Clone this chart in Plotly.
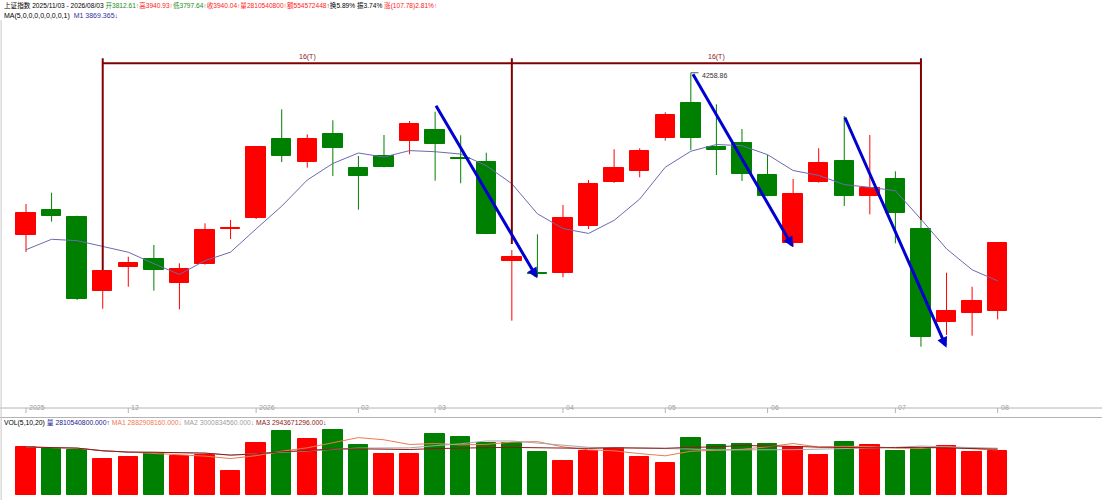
import numpy as np
import pandas as pd
import plotly.graph_objects as go

# weekly bars, 上证指数
weeks = ['2025-11-03', '2025-11-10', '2025-11-17', '2025-11-24', '2025-12-01', '2025-12-08',
         '2025-12-15', '2025-12-22', '2025-12-29', '2026-01-05', '2026-01-12', '2026-01-19',
         '2026-01-26', '2026-02-02', '2026-02-09', '2026-02-23', '2026-03-02', '2026-03-09',
         '2026-03-16', '2026-03-23', '2026-03-30', '2026-04-06', '2026-04-13', '2026-04-20',
         '2026-04-27', '2026-05-04', '2026-05-11', '2026-05-18', '2026-05-25', '2026-06-01',
         '2026-06-08', '2026-06-15', '2026-06-22', '2026-06-29', '2026-07-06', '2026-07-13',
         '2026-07-20', '2026-07-27', '2026-08-03']

open_ = [3955.5, 4002.3, 3989.2, 3850.2, 3895.1, 3910.1, 3865.8, 3901.3, 3966.2, 3987.3,
         4135.0, 4091.5, 4145.0, 4080.3, 4103.3, 4130.7, 4151.9, 4099.0, 4092.6, 3906.3,
         3884.5, 3885.0, 3972.4, 4054.1, 4075.8, 4136.4, 4201.8, 4120.6, 4127.0, 4067.7,
         3940.0, 4055.2, 4093.9, 4028.5, 4059.7, 3966.2, 3792.8, 3809.7, 3812.61]
high = [4013.5, 4034.6, 3991.6, 3890.0, 3914.9, 3936.8, 3902.6, 3977.4, 3983.6, 4121.0,
        4190.6, 4143.8, 4170.0, 4103.3, 4142.5, 4168.7, 4186.1, 4142.0, 4109.4, 3927.5,
        3956.8, 4011.6, 4058.4, 4115.8, 4117.7, 4185.0, 4258.86, 4199.9, 4153.7, 4105.1,
        4060.2, 4117.7, 4178.1, 4142.5, 4074.6, 3983.6, 3885.0, 3858.8, 3940.93]
low = [3923.7, 3980.4, 3834.0, 3817.7, 3858.8, 3851.4, 3816.6, 3900.0, 3948.0, 3985.4,
       4092.0, 4081.4, 4065.9, 4002.8, 4082.0, 4106.4, 4057.1, 4052.2, 3957.0, 3795.3,
       3877.5, 3876.4, 3966.7, 4053.0, 4063.4, 4131.9, 4114.5, 4067.7, 4056.5, 4028.0,
       3933.6, 4053.3, 4009.8, 3994.2, 3940.0, 3746.6, 3768.5, 3767.2, 3797.64]
close = [3997.2, 3991.6, 3835.8, 3888.8, 3903.2, 3890.1, 3891.0, 3964.3, 3968.6, 4120.6,
         4102.7, 4135.6, 4118.8, 4066.4, 4082.7, 4163.1, 4125.1, 4097.1, 3958.0, 3913.8,
         3882.0, 3986.8, 4051.5, 4080.3, 4112.6, 4179.9, 4136.4, 4114.5, 4069.0, 4029.0,
         4031.6, 4090.7, 4028.5, 4043.4, 3997.2, 3765.3, 3814.0, 3832.1, 3940.04]

# volume in 亿 (1e8)
vol_yi = [30.66, 30.21, 28.94, 23.19, 24.08, 26.64, 24.91, 25.36, 15.33, 33.41,
          40.88, 35.77, 41.52, 31.75, 26.38, 26.00, 38.77, 37.24, 33.41, 33.41,
          27.66, 21.91, 27.91, 30.21, 24.46, 20.63, 36.60, 31.75, 32.58, 32.58,
          30.85, 25.36, 34.05, 31.75, 27.91, 29.57, 31.11, 27.47, 28.105408]

# MA5 values of the first four weeks (need earlier history)
ma5_head = [3928.0, 3947.5, 3944.9, 3933.6]

# cycle markers: bar index of each 16-week turn
cycle_idx = [3, 19, 35]
cycle_label = '16(T)'

# trend arrows: (start idx, start price, end idx, end price)
trend_arrows = [(16, 4200.0, 20, 3874.5),
                (26.05, 4258.86, 30, 3932.5),
                (32, 4178.0, 36, 3744.8)]

RED = '#FF0000'
GREEN = '#008000'
FONT = 'Liberation Sans, Noto Sans CJK SC, DejaVu Sans'

df = pd.DataFrame({'week': pd.to_datetime(weeks), 'open': open_, 'high': high,
                   'low': low, 'close': close, 'vol': np.array(vol_yi) * 1e8})
df['i'] = np.arange(len(df))
ma5 = df['close'].rolling(5).mean()
ma5.iloc[:4] = ma5_head
df['ma5'] = ma5
up = df['close'] >= df['open']
prev_close = df['close'].shift(1).fillna(df['open'])
vol_up = df['close'] >= prev_close

fig = go.Figure()

# wicks
for mask, col in [(up, RED), (~up, GREEN)]:
    wx, wy = [], []
    for _, r in df[mask].iterrows():
        wx += [r['i'], r['i'], None]
        wy += [r['low'], r['high'], None]
    fig.add_trace(go.Scatter(x=wx, y=wy, mode='lines', line=dict(color=col, width=1),
                             hoverinfo='skip', showlegend=False))

# bodies
d = df[up]
fig.add_trace(go.Bar(x=d['i'], base=d['open'], y=d['close'] - d['open'], width=0.76,
                     marker=dict(color=RED, line=dict(color=RED, width=1)), showlegend=False))
d = df[~up]
fig.add_trace(go.Bar(x=d['i'], base=d['close'], y=d['open'] - d['close'], width=0.76,
                     marker=dict(color=GREEN, line=dict(color=GREEN, width=1)), showlegend=False))

fig.add_trace(go.Scatter(x=df['i'], y=df['ma5'], mode='lines',
                         line=dict(color='#6A6AB0', width=1), showlegend=False))

# volume
fig.add_trace(go.Bar(x=df['i'], y=df['vol'], width=0.76, xaxis='x2', yaxis='y2',
                     marker=dict(color=np.where(vol_up, RED, GREEN),
                                 line=dict(color=np.where(vol_up, RED, GREEN), width=1)),
                     showlegend=False))
for n, col in [(5, '#F07850'), (10, '#A8A8A8'), (20, '#8B1A1A')]:
    fig.add_trace(go.Scatter(x=df['i'], y=df['vol'].rolling(n, min_periods=1).mean(),
                             mode='lines', xaxis='x2', yaxis='y2',
                             line=dict(color=col, width=1), showlegend=False))

# cycle bracket
top = 4286
bar_y = 4276.6
bottoms = [3890.0, 3938.7, 3983.6]
for idx, b in zip(cycle_idx, bottoms):
    fig.add_shape(type='line', x0=idx, x1=idx, y0=b, y1=top, xref='x', yref='y',
                  line=dict(color='#800000', width=2))
fig.add_shape(type='line', x0=cycle_idx[0], x1=cycle_idx[-1], y0=bar_y, y1=bar_y,
              xref='x', yref='y', line=dict(color='#800000', width=2))
for a, b in zip(cycle_idx[:-1], cycle_idx[1:]):
    fig.add_annotation(x=(a + b) / 2, y=bar_y, text=cycle_label, showarrow=False,
                       yanchor='bottom', yshift=0,
                       font=dict(size=7, color='#8B1A1A', family=FONT))

for x0, y0, x1, y1 in trend_arrows:
    fig.add_annotation(x=x1, y=y1, ax=x0, ay=y0, xref='x', yref='y', axref='x', ayref='y',
                       text='', showarrow=True, arrowhead=2, arrowsize=0.7, arrowwidth=3,
                       arrowcolor='#0000D0', standoff=0)

# peak label
pk = int(np.argmax(high))
fig.add_shape(type='line', x0=pk, x1=pk + 0.3, y0=high[pk], y1=high[pk], xref='x', yref='y',
              line=dict(color='#555555', width=1))
fig.add_annotation(x=pk + 0.35, y=high[pk], text=f'{high[pk]:.2f}', showarrow=False,
                   xanchor='left', yanchor='middle', yshift=-3,
                   font=dict(size=7, color='#333333', family=FONT))

# date strip
strip_top = 1 - 408 / 500
strip_bot = 1 - 417.5 / 500
for yy in [strip_top, strip_bot]:
    fig.add_shape(type='line', x0=0, x1=1, y0=yy, y1=yy, xref='paper', yref='paper',
                  line=dict(color='#B4B4B4', width=1))
fig.add_shape(type='line', x0=0.001, x1=0.001, y0=0, y1=1 - 20 / 500, xref='paper',
              yref='paper', line=dict(color='#C8C8C8', width=1))
for i in range(len(df)):
    w = df['week'].iloc[i]
    if i == 0 or w.month != df['week'].iloc[i - 1].month:
        lab = str(w.year) if (i == 0 or w.month == 1) else f'{w.month:02d}'
        fig.add_shape(type='line', x0=i, x1=i, y0=strip_top, y1=1 - 413 / 500,
                      xref='x', yref='paper', line=dict(color='#B4B4B4', width=1))
        fig.add_annotation(x=i, y=(strip_top + strip_bot) / 2, xref='x', yref='paper',
                           text=lab, showarrow=False, xanchor='left', xshift=1,
                           font=dict(size=7, color='#A0A0A0', family=FONT))

# headers
hdr = ('上证指数 2025/11/03 - 2026/08/03 '
       f'<span style="color:#228B22">开{open_[-1]:.2f}↑</span>'
       f'<span style="color:#FF2020">高{high[-1]:.2f}↑</span>'
       f'<span style="color:#228B22">低{low[-1]:.2f}↑</span>'
       f'<span style="color:#FF2020">收{close[-1]:.2f}↑</span>'
       '<span style="color:#FF2020">量2810540800↑</span>'
       '<span style="color:#FF2020">额554572448</span>↑'
       '换5.89% 振3.74% '
       '<span style="color:#FF2020">涨(107.78)2.81%↑</span>')
fig.add_annotation(x=0.002, y=1 - 5 / 500, xref='paper', yref='paper', text=hdr,
                   showarrow=False, xanchor='left', yanchor='middle',
                   font=dict(size=6.6, color='#000000', family=FONT))
ma_hdr = ('MA(5,0,0,0,0,0,0,0,1)  '
          '<span style="color:#3030A0">M1 3869.365↓</span>')
fig.add_annotation(x=0.002, y=1 - 16 / 500, xref='paper', yref='paper', text=ma_hdr,
                   showarrow=False, xanchor='left', yanchor='middle',
                   font=dict(size=7, color='#000000', family=FONT))
vol_hdr = ('VOL(5,10,20) <span style="color:#202090">量 2810540800.000↑</span> '
           '<span style="color:#F07850">MA1 2882908160.000↓</span> '
           '<span style="color:#A0A0A0">MA2 3000834560.000↓</span> '
           '<span style="color:#8B1A1A">MA3 2943671296.000↓</span>')
fig.add_annotation(x=0.002, y=1 - 423 / 500, xref='paper', yref='paper', text=vol_hdr,
                   showarrow=False, xanchor='left', yanchor='middle',
                   font=dict(size=6.8, color='#000000', family=FONT))

xr = [-1.017, 42.08]
ax_off = dict(showgrid=False, zeroline=False, showticklabels=False, ticks='', showline=False)
fig.update_layout(
    width=1102, height=500,
    margin=dict(l=0, r=0, t=0, b=0),
    paper_bgcolor='white', plot_bgcolor='white',
    barmode='overlay', bargap=0,
    xaxis=dict(range=xr, anchor='y', **ax_off),
    yaxis=dict(range=[3632.0, 4372.5], domain=[1 - 408 / 500, 1 - 12 / 500], **ax_off),
    xaxis2=dict(range=xr, anchor='y2', **ax_off),
    yaxis2=dict(range=[-3.19e8, 4.471e9], domain=[0, 0.15], **ax_off),
    font=dict(family=FONT),
)

fig.write_html('out.html', config={'displayModeBar': False},
               post_script="document.body.style.margin='0px';")
